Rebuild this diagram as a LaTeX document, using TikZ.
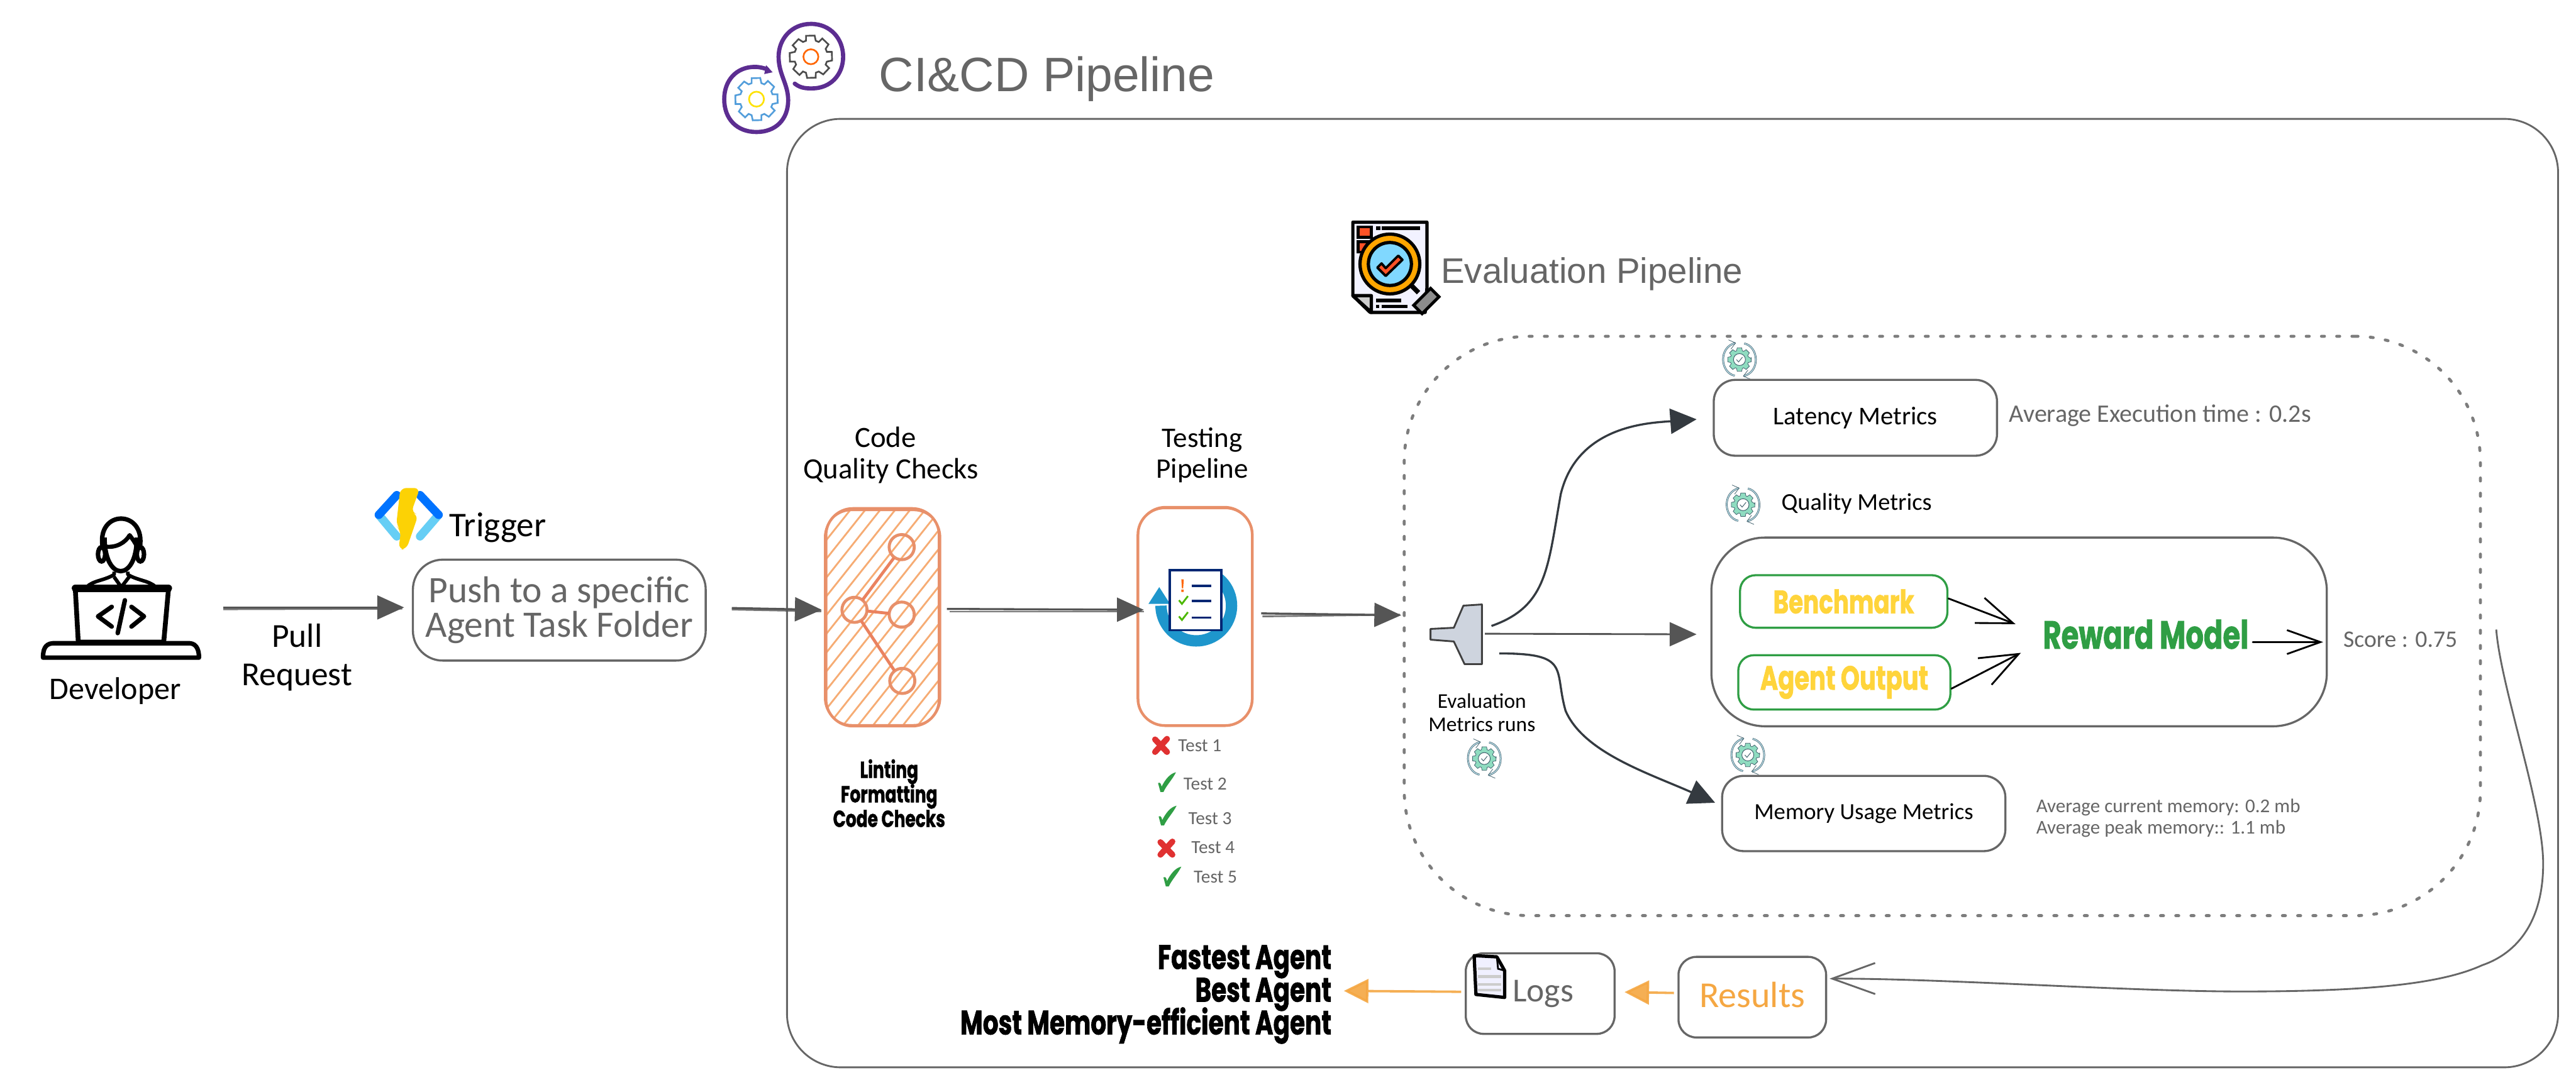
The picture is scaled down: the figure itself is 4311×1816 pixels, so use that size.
\documentclass[tikz,border=0pt]{standalone}
\usepackage{fontspec}
\usetikzlibrary{arrows.meta,calc}
\setmainfont{Liberation Sans}
\newfontfamily\hand{Carlito}
\newfontfamily\heavy[FakeStretch=0.72,BoldFeatures={FakeBold=1.2}]{Poppins}
\newcommand\hs[2]{\fontsize{#1}{#2}\selectfont\lineskiplimit=-20pt}
\definecolor{ink}{HTML}{666666}
\definecolor{flowink}{HTML}{555555}
\definecolor{inkdark}{HTML}{343A40}
\definecolor{salmon}{HTML}{E8906A}
\definecolor{hatch}{HTML}{F6AC74}
\definecolor{grn}{HTML}{2F9E44}
\definecolor{yel}{HTML}{FFD43B}
\definecolor{org}{HTML}{F5A742}
\definecolor{purp}{HTML}{5C2D91}
\definecolor{teal1}{HTML}{8FDCC0}
\definecolor{slate}{HTML}{3F5F6B}
\definecolor{pale}{HTML}{BFE3EE}
\definecolor{crossred}{HTML}{E03131}
\definecolor{funnelgrey}{HTML}{CED4DE}
\definecolor{lens}{HTML}{80D8FF}
\tikzset{
  box/.style={draw=ink,line width=.35mm,fill=white,inner sep=0pt,align=center,rounded corners=#1},
  box/.default=3.5mm,
  sketchbox/.style={draw=salmon,line width=.45mm,rounded corners=4.5mm},
  lab/.style={inner sep=0pt,align=center,text=black},
  greylab/.style={inner sep=0pt,align=center,text=ink},
  blacklab/.style={inner sep=0pt,align=center,text=black,font={\heavy\bfseries\hs{11}{11.7}}},
  flow/.style={draw=flowink,line width=.35mm,-{Triangle[length=4.5mm,width=4mm]}},
  flowpair/.style={draw=flowink,line width=.3mm,opacity=.8},
  darkflow/.style={draw=inkdark,line width=.35mm,-{Triangle[length=4.4mm,width=4.2mm]}},
  barb/.style={draw=black,line width=.3mm,line cap=round,-{Straight Barb[length=6mm,width=4.5mm]}},
  orangeflow/.style={draw=org,line width=.4mm,opacity=.9,-{Triangle[length=4.1mm,width=4mm]}},
  pics/cog/.style 2 args={code={
    \draw[draw=#1,line width=.28mm,line join=miter,fill=white] (-13:36)
      \foreach \a in {0,45,...,315} { -- ({\a-13}:36) -- ({\a+10}:36) -- ({\a+17}:28) -- ({\a+28}:28) } -- cycle;
    \draw[draw=#2,line width=.28mm] (0,0) circle[radius=12.5];
  }},
  pics/checkcog/.style={code={
    \draw[draw=slate,double=pale,double distance=.14mm,line width=.08mm,-{Straight Barb[length=1mm,width=1.6mm]}] (-8,27) .. controls (-32,22) and (-36,-20) .. (-6,-28);
    \draw[draw=slate,double=pale,double distance=.14mm,line width=.08mm,-{Straight Barb[length=1mm,width=1.6mm]}] (8,-27) .. controls (32,-22) and (36,20) .. (6,28);
    \fill[teal1,draw=slate,line width=.08mm] (-4:20)
      \foreach \a in {0,45,...,315} { -- ({\a-11}:20) -- ({\a+11}:20) -- ({\a+18}:15.5) -- ({\a+27}:15.5) } -- cycle;
    \draw[draw=slate,fill=white,line width=.1mm] (0,0) circle[radius=10];
    \draw[draw=slate,line width=.1mm] (-5,0) -- (-1.5,4) -- (5,-4);
  }},
  pics/crossmark/.style={code={
    \draw[draw=crossred,line width=1mm,line cap=round] (-10,-10) -- (10,11) (10,-11) -- (-10,11);
  }},
  pics/tickmark/.style={code={
    \fill[grn] (-14,2) .. controls (-10,0) and (-9,4) .. (-8,8) .. controls (-2,-4) and (6,-14) .. (16,-16) .. controls (10,-4) and (0,6) .. (-5,17) -- (-10,17) -- cycle;
  }},
}
\begin{document}
\begin{tikzpicture}[x=.1mm,y=-.1mm]
\useasboundingbox (0,0) rectangle (4311,1816);
\fill[white] (0,0) rectangle (4311,1816);

% outer pipeline box
\node[box=9mm,draw=ink,line width=.3mm,minimum width=296.4mm,minimum height=158.8mm] (outer) at (2799,993) {};
\node[inner sep=0pt,text=ink,font=\hs{23}{27}] (citxt) at (1752,132) {CI\&CD Pipeline};
\node[inner sep=0pt,text=ink,font=\hs{16.9}{20}] (evaltxt) at (2664,459) {Evaluation Pipeline};

% CI CD icon
\pic at (1357,95) {cog={black!70}{orange!80!red}};
\pic at (1266,166) {cog={cyan!65!blue!70}{yellow!85!orange}};
\draw[purp,line width=.7mm,line cap=round] (1330,140) .. controls (1340,148) and (1350,148) .. (1359,148) .. controls (1390,148) and (1411,125) .. (1411,95) .. controls (1411,65) and (1390,40) .. (1357,40) .. controls (1325,40) and (1303,65) .. (1303,95) .. controls (1303,125) and (1319,140) .. (1319,168) .. controls (1319,200) and (1298,221) .. (1266,221) .. controls (1234,221) and (1212,200) .. (1212,166) .. controls (1212,135) and (1232,112) .. (1263,112) .. controls (1272,112) and (1278,114) .. (1284,116);
\fill[purp] (1293,121) -- (1282,109) -- (1279,124) -- cycle;

% report icon
\draw[black,line width=.55mm,fill=blue!5,line join=round] (2264,372) -- (2388,372) -- (2388,482) -- (2385,523) -- (2293,523) -- (2264,495) -- cycle;
\draw[black,line width=.55mm,fill=black!20,line join=round] (2264,495) -- (2295,495) -- (2295,523) -- cycle;
\draw[black,line width=.5mm,fill=red!60!orange!85] (2273,380) rectangle (2295,397);
\draw[black,line width=.5mm,fill=red!60!orange!85] (2273,405) rectangle (2295,422);
\draw[black,line width=.55mm] (2303,382) -- (2310,382) (2312,382) -- (2377,382) (2303,503) -- (2345,503) (2303,513) -- (2308,513) (2312,513) -- (2355,513);
\draw[black,line width=.8mm] (2362,478) -- (2374,490);
\draw[black,line width=.5mm,fill=black!45,rotate around={45:(2387,504)}] (2367,494) rectangle (2407,514);
\draw[black,line width=.55mm,fill=orange!70!yellow] (2326,442) circle[radius=50];
\draw[black,line width=.55mm,fill=lens] (2326,442) circle[radius=36];
\draw[black,line width=.4mm,fill=red!60!orange!85,line join=round] (2305,448) -- (2312,441) -- (2319,449) -- (2340,428) -- (2347,435) -- (2319,462) -- cycle;

% developer
\node[inner sep=0pt,minimum width=26.4mm,minimum height=1mm] (dev) at (202,1021) {};
\draw[black,line width=.75mm,line cap=round] (172,917) .. controls (160,852) and (245,852) .. (234,917);
\draw[black,line width=.75mm] (170,928) ellipse[x radius=6,y radius=12] (235,928) ellipse[x radius=6,y radius=12];
\draw[black,line width=.75mm,fill=white] (175,900) .. controls (175,975) and (229,975) .. (229,900);
\draw[black,line width=.7mm,line join=round] (175,915) .. controls (195,918) and (210,908) .. (217,896) .. controls (222,903) and (226,908) .. (229,915);
\draw[black,line width=.6mm,line join=round] (145,983) .. controls (155,972) and (175,972) .. (191,962) -- (191,957) (261,983) .. controls (250,972) and (230,972) .. (214,962) -- (214,957) (191,966) -- (203,983) -- (216,966);
\draw[black,line width=.8mm,fill=white,line join=round] (126,986) -- (282,986) -- (274,1075) -- (131,1075) -- cycle;
\draw[black,line width=1.2mm,line cap=round] (126,985) -- (282,985);
\draw[black,line width=.75mm,fill=white,line join=round] (72,1101) .. controls (72,1090) and (74,1078) .. (88,1077) -- (318,1077) .. controls (330,1078) and (333,1090) .. (333,1101) -- cycle;
\draw[black,line width=.6mm] (72,1101) -- (333,1101);
\draw[black,line width=.75mm,line join=round,line cap=round] (187,1016) -- (164,1032) -- (187,1049) (220,1016) -- (241,1032) -- (220,1049) (209,1005) -- (197,1060);
\node[lab,font={\hand\hs{15}{18}}] (devtxt) at (193,1157) {Developer};
\node[lab,font={\hand\hs{16}{18.2}}] (prtxt) at (497,1101) {Pull\\Request};

% trigger
\draw[cyan!60!white,line width=1.4mm,line cap=round] (634,862) -- (664,898) (734,862) -- (703,898);
\draw[blue!55!cyan,line width=1.4mm,line cap=round] (664,829) -- (634,862) (703,829) -- (734,862);
\fill[yellow!70!orange,rounded corners=1mm] (670,817) -- (703,817) -- (688,858) -- (700,862) -- (680,920) -- (667,920) -- (671,888) -- (663,880) -- cycle;
\node[lab,font={\hand\hs{16.5}{20}}] (trig) at (833,883) {Trigger};
\node[box=5mm,text=ink,font={\hand\hs{17.8}{16.5}},minimum width=49mm,minimum height=16.9mm] (push) at (936,1021.5) {Push to a specific\\Agent Task Folder};

% code quality
\node[lab,font={\hand\hs{14}{14.8}}] (qctxt) at (1491,762) {\hspace*{-1.8mm}Code\\Quality Checks};
\node[inner sep=0pt,minimum width=18.8mm,minimum height=36.3mm] (qc) at (1477,1033.5) {};
\begin{scope}
\clip[rounded corners=4.5mm] (1383,852) rectangle (1571,1215);
\foreach \k in {0,...,20} {\draw[hatch,line width=.3mm] ({1080+\k*25},1222) -- ({1380+\k*25},845);}
\end{scope}
\draw[sketchbox] (qc.north west) rectangle (qc.south east);
\draw[sketchbox,line width=.3mm] ($(qc.north west)+(-2,3)$) rectangle ($(qc.south east)+(2,-2)$);
\draw[salmon,line width=.5mm] (1509,916) circle[radius=21] (1430,1021) circle[radius=21] (1509,1029) circle[radius=21] (1510,1140) circle[radius=21];
\draw[salmon!90!red,line width=.5mm] (1443,1005) -- (1496,934) (1451,1023) -- (1488,1027) (1441,1039) -- (1497,1123);
\node[blacklab] (qclist) at (1488,1328) {Linting\\Formatting\\Code Checks};

% testing
\node[lab,font={\hand\hs{13.5}{14.8}}] (testtxt) at (2012,762) {Testing\\Pipeline};
\node[inner sep=0pt,minimum width=19mm,minimum height=36.3mm] (test) at (2000,1032.5) {};
\draw[sketchbox] (test.north west) rectangle (test.south east);
\draw[sketchbox,line width=.25mm] ($(test.north west)+(1,-2)$) rectangle ($(test.south east)+(-1,1)$);
\definecolor{ringblue}{HTML}{1E96CC}
\draw[ringblue,line width=1.9mm] (2002,1014) ++(-50:59) arc[start angle=-50,end angle=180,radius=59];
\fill[ringblue] (1922,1011) -- (1958,1011) -- (1940,983) -- cycle;
\draw[draw=blue!50!teal!60!black,line width=.4mm,fill=white] (1958,955) rectangle (2044,1055);
\draw[blue!50!teal!60!black,line width=.4mm] (1994,981) -- (2027,981) (1994,1006) -- (2027,1006) (1994,1034) -- (2027,1034);
\fill[orange!80!red] (1977,970) -- (1981,970) -- (1980,985) -- (1978,985) -- cycle (1977,987) rectangle (1981,991);
\draw[green!60!black!70!yellow,line width=.3mm] (1973,1005) -- (1978,1011) -- (1988,998) (1973,1032) -- (1978,1038) -- (1988,1025);

% tests
\pic at (1943,1248) {crossmark};
\pic at (1952,1309) {tickmark};
\pic at (1953,1365) {tickmark};
\pic at (1952,1420) {crossmark};
\pic at (1961,1467) {tickmark};
\node[greylab,font={\hand\hs{8.8}{10}}] (t1) at (2008,1248) {Test 1};
\node[greylab,font={\hand\hs{8.8}{10}}] (t2) at (2017,1312) {Test 2};
\node[greylab,font={\hand\hs{8.8}{10}}] (t3) at (2025,1370) {Test 3};
\node[greylab,font={\hand\hs{8.8}{10}}] (t4) at (2030,1419) {Test 4};
\node[greylab,font={\hand\hs{8.8}{10}}] (t5) at (2034,1468) {Test 5};

% evaluation region
\node[draw=ink!85,line width=.5mm,dash pattern=on .5mm off 2.05mm,line cap=round,rounded corners=21mm,inner sep=0pt,minimum width=180.1mm,minimum height=97mm] (evalbox) at (3250.5,1048) {};
\coordinate (funnel) at (2437,1062);
\draw[draw=black!75,fill=funnelgrey,line width=.3mm,line join=round] (2394,1053) -- (2433,1051) -- (2449,1014) -- (2480,1012) -- (2480,1112) -- (2451,1112) -- (2433,1074) -- (2394,1071) -- cycle;
\node[lab,font={\hand\hs{10}{10.8}}] (evtxt) at (2480,1193) {Evaluation\\Metrics runs};
\pic at (2484,1270) {checkcog};
\pic at (2911,602) {checkcog};
\pic at (2917,845) {checkcog};
\pic at (2925,1264) {checkcog};

\node[box=3.6mm,font={\hand\hs{12.2}{14}},minimum width=47.4mm,minimum height=12.7mm] (lat) at (3105,699.5) {Latency Metrics};
\node[lab,font={\hand\hs{11.5}{14}}] (qmtxt) at (3107,843) {Quality Metrics};
\node[box=9mm,minimum width=103mm,minimum height=31.6mm] (qb) at (3379,1058) {};
\node[box=2.6mm,draw=grn,text=yel,font={\heavy\bfseries\hs{15.5}{18}},minimum width=34.7mm,minimum height=8.8mm] (bm) at (3085.5,1007) {Benchmark};
\node[box=2.6mm,draw=grn,text=yel,font={\heavy\bfseries\hs{16}{18}},minimum width=35.5mm,minimum height=9.1mm] (ao) at (3086.5,1142.5) {Agent Output};
\node[inner sep=0pt,text=grn,font={\heavy\bfseries\hs{18.7}{20}}] (reward) at (3591,1062) {Reward Model};
\node[greylab,font={\hand\hs{11.3}{14}}] (score) at (4017,1071) {Score : 0.75};
\node[box=3.6mm,font={\hand\hs{11}{14}},minimum width=47.4mm,minimum height=12.6mm] (mem) at (3119,1362) {Memory Usage Metrics};
\node[greylab,font={\hand\hs{12}{14}}] (lattxt) at (3615,696) {Average Execution time : 0.2s};
\node[greylab,align=left,anchor=west,font={\hand\hs{9.3}{10.2}}] (memtxt) at (3407,1370) {Average current memory: 0.2 mb\\Average peak memory:: 1.1 mb};

% results row
\node[box=3mm,text=org,font={\hand\hs{17.4}{20}},minimum width=24.7mm,minimum height=13.5mm,text depth=.8mm] (results) at (2932.5,1669.5) {Results};
\node[box=3mm,text=ink,font={\hand\hs{16}{20}},minimum width=24.9mm,minimum height=13.5mm] (logs) at (2577.5,1663.5) {\hspace*{1mm}Logs};
\draw[black,line width=.55mm,fill=blue!6,line join=round] (2467,1600) -- (2505,1602) -- (2518,1625) -- (2518,1670) -- (2470,1665) -- cycle;
\draw[black,line width=.3mm] (2505,1602) -- (2507,1622) -- (2518,1625);
\draw[black!20,line width=.45mm] (2473,1622) -- (2495,1622) (2473,1635) -- (2512,1635) (2473,1648) -- (2512,1648) (2473,1658) -- (2512,1658);
\node[anchor=east,inner sep=0pt,text=black,align=right,font={\heavy\bfseries\hs{16.2}{15.6}}] (winners) at (2229,1665) {Fastest Agent\\Best Agent\\Most Memory-efficient Agent};

% connectors
\draw[flow] ($(dev.east)+(39,-4)$) -- ($(push.west)+(-13,-4.5)$);
\draw[flowpair] ($(dev.east)+(39,-1)$) -- ($(push.west)+(-16,-2.5)$);
\draw[flow] ($(push.east)+(42,-3.5)$) -- ($(qc.west)+(-7,-12.5)$);
\draw[flowpair] ($(push.east)+(42,-1)$) -- ($(qc.west)+(-8,-10)$);
\draw[flow] ($(qc.east)+(13,-14)$) -- ($(test.west)+(10,-11.5)$);
\draw[flowpair] ($(qc.east)+(18,-9.5)$) -- ($(test.west)+(10,-8.5)$);
\draw[flow] ($(test.east)+(15,-5.5)$) -- ($(funnel)+(-92,-32)$);
\draw[flowpair] ($(test.east)+(17,-0.5)$) -- ($(funnel)+(-94,-33)$);

\draw[darkflow] ($(funnel)+(59,-14)$) .. controls (2590,1015) and (2590,950) .. (2612,827) .. controls (2640,712) and (2760,708) .. ($(lat.west)+(-27,2.5)$);
\draw[flow,line width=.3mm] ($(funnel)+(48,-1)$) -- ($(qb.west)+(-23,4)$);
\draw[darkflow] ($(funnel)+(72,32)$) .. controls (2630,1094) and (2600,1120) .. (2620,1190) .. controls (2650,1260) and (2760,1295) .. ($(mem.west)+(-10,-18)$);

\draw[barb] ($(bm.east)+(0,-5)$) -- ($(reward.center)+(-218,-17)$);
\draw[barb,-{Straight Barb[length=6.4mm,width=5mm]}] ($(ao.east)+(0,10.5)$) -- ($(reward.center)+(-209,31)$);
\draw[barb,-{Straight Barb[length=5.6mm,width=4mm]}] ($(reward.center)+(179,13)$) -- ($(qb.east)+(-8,17)$);

\coordinate (evalout) at ($(evalbox.east)+(24,6)$);
\draw[draw=ink,line width=.3mm,-{Straight Barb[length=7.2mm,width=5.2mm]}] (evalout) .. controls (4185,1150) and (4256,1350) .. (4256,1446) .. controls (4256,1540) and (4215,1595) .. (4154,1616) .. controls (4090,1645) and (3980,1660) .. (3752,1660) .. controls (3560,1660) and (3250,1638) .. ($(results.east)+(4,-31)$);

\draw[orangeflow] ($(results.west)+(-6,-7)$) -- ($(logs.east)+(15,-2.5)$);
\draw[orangeflow] ($(logs.west)+(-6,-3)$) -- ($(winners.east)+(20,-6)$);
\end{tikzpicture}
\end{document}
